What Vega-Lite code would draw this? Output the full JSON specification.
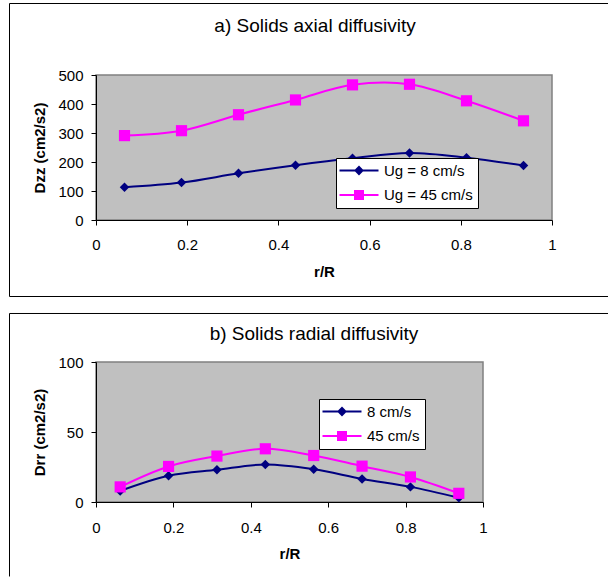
{
  "$schema": "https://vega.github.io/schema/vega-lite/v6.json",
  "padding": {"left": 8, "top": 2, "right": 0, "bottom": 0},
  "background": "white",
  "spacing": 14,
  "datasets": {
    "axial": [
      {"series": "Ug = 8 cm/s", "r": 0.0625, "D": 113},
      {"series": "Ug = 8 cm/s", "r": 0.1875, "D": 129},
      {"series": "Ug = 8 cm/s", "r": 0.3125, "D": 161},
      {"series": "Ug = 8 cm/s", "r": 0.4375, "D": 189},
      {"series": "Ug = 8 cm/s", "r": 0.5625, "D": 213},
      {"series": "Ug = 8 cm/s", "r": 0.6875, "D": 231},
      {"series": "Ug = 8 cm/s", "r": 0.8125, "D": 215},
      {"series": "Ug = 8 cm/s", "r": 0.9375, "D": 188},
      {"series": "Ug = 45 cm/s", "r": 0.0625, "D": 291},
      {"series": "Ug = 45 cm/s", "r": 0.1875, "D": 308},
      {"series": "Ug = 45 cm/s", "r": 0.3125, "D": 363},
      {"series": "Ug = 45 cm/s", "r": 0.4375, "D": 414},
      {"series": "Ug = 45 cm/s", "r": 0.5625, "D": 466},
      {"series": "Ug = 45 cm/s", "r": 0.6875, "D": 468},
      {"series": "Ug = 45 cm/s", "r": 0.8125, "D": 411},
      {"series": "Ug = 45 cm/s", "r": 0.9375, "D": 342}
    ],
    "radial": [
      {"series": "8 cm/s", "r": 0.0625, "D": 7.9},
      {"series": "8 cm/s", "r": 0.1875, "D": 18.7},
      {"series": "8 cm/s", "r": 0.3125, "D": 23},
      {"series": "8 cm/s", "r": 0.4375, "D": 26.8},
      {"series": "8 cm/s", "r": 0.5625, "D": 23.4},
      {"series": "8 cm/s", "r": 0.6875, "D": 16.5},
      {"series": "8 cm/s", "r": 0.8125, "D": 10.8},
      {"series": "8 cm/s", "r": 0.9375, "D": 3.1},
      {"series": "45 cm/s", "r": 0.0625, "D": 10.8},
      {"series": "45 cm/s", "r": 0.1875, "D": 25.4},
      {"series": "45 cm/s", "r": 0.3125, "D": 32.8},
      {"series": "45 cm/s", "r": 0.4375, "D": 38},
      {"series": "45 cm/s", "r": 0.5625, "D": 33.2},
      {"series": "45 cm/s", "r": 0.6875, "D": 25.6},
      {"series": "45 cm/s", "r": 0.8125, "D": 17.9},
      {"series": "45 cm/s", "r": 0.9375, "D": 6.2}
    ],
    "one": [{}]
  },
  "vconcat": [
    {
      "width": 456,
      "height": 145,
      "title": {"text": "a) Solids axial diffusivity", "fontSize": 19, "fontWeight": "normal", "baseline": "alphabetic", "offset": -47.8, "dx": -9, "anchor": "middle", "frame": "group"},
      "layer": [
        {
          "data": {"name": "axial"},
          "encoding": {
            "x": {"field": "r", "type": "quantitative", "scale": {"domain": [0, 1], "nice": false},
                  "axis": {"title": "r/R", "values": [0, 0.2, 0.4, 0.6, 0.8, 1], "format": "~g", "labelPadding": 12, "titlePadding": 12, "labelFlush": false, "labelOverlap": false}},
            "y": {"field": "D", "type": "quantitative", "scale": {"domain": [0, 500], "nice": false},
                  "axis": {"title": "Dzz (cm2/s2)", "values": [0, 100, 200, 300, 400, 500], "format": "d", "labelPadding": 8, "titlePadding": 10, "labelOverlap": false}}
          },
          "layer": [
            {"transform": [{"filter": "datum.series === 'Ug = 8 cm/s'"}],
             "mark": {"type": "line", "interpolate": "catmull-rom", "strokeWidth": 2, "color": "#000080"}},
            {"transform": [{"filter": "datum.series === 'Ug = 45 cm/s'"}],
             "mark": {"type": "line", "interpolate": "catmull-rom", "strokeWidth": 2, "color": "#FF00FF"}},
            {"transform": [{"filter": "datum.series === 'Ug = 8 cm/s'"}],
             "mark": {"type": "point", "shape": "diamond", "filled": true, "color": "#000080", "size": 90, "opacity": 1, "strokeWidth": 0}},
            {"transform": [{"filter": "datum.series === 'Ug = 45 cm/s'"}],
             "mark": {"type": "square", "color": "#FF00FF", "size": 125, "opacity": 1, "strokeWidth": 0}},
            {"transform": [{"filter": "false"}],
             "mark": {"type": "point", "filled": true, "opacity": 1},
             "encoding": {
               "fill": {"field": "series", "type": "nominal", "scale": {"domain": ["Ug = 8 cm/s", "Ug = 45 cm/s"], "range": ["#000080", "#FF00FF"]},
                        "legend": {"orient": "none", "legendX": 240, "legendY": 83, "title": null}},
               "stroke": {"field": "series", "type": "nominal", "scale": {"domain": ["Ug = 8 cm/s", "Ug = 45 cm/s"], "range": ["#000080", "#FF00FF"]},
                        "legend": {"orient": "none", "legendX": 240, "legendY": 83, "title": null}},
               "shape": {"field": "series", "type": "nominal", "scale": {"domain": ["Ug = 8 cm/s", "Ug = 45 cm/s"], "range": ["M-1.8,0H6M1.4,0L2.1,-0.7L2.8,0L2.1,0.7Z", "M-1.8,0H6M1.3,-0.8H2.9V0.8H1.3Z"]},
                        "legend": {"orient": "none", "legendX": 240, "legendY": 83, "title": null}}
             }}
          ]
        },
        {"data": {"name": "one"}, "mark": {"type": "rule", "color": "black", "strokeWidth": 1},
         "encoding": {
           "x": {"datum": -0.18969, "type": "quantitative", "axis": {"title": "r/R", "values": [0, 0.2, 0.4, 0.6, 0.8, 1], "format": "~g", "labelPadding": 12, "titlePadding": 12, "labelFlush": false, "labelOverlap": false}},
           "x2": {"datum": 1.1239},
           "y": {"datum": 746.55, "type": "quantitative", "axis": {"title": "Dzz (cm2/s2)", "values": [0, 100, 200, 300, 400, 500], "format": "d", "labelPadding": 8, "titlePadding": 10, "labelOverlap": false}}}},
        {"data": {"name": "one"}, "mark": {"type": "rule", "color": "black", "strokeWidth": 1},
         "encoding": {
           "x": {"datum": -0.18969, "type": "quantitative", "axis": {"title": "r/R", "values": [0, 0.2, 0.4, 0.6, 0.8, 1], "format": "~g", "labelPadding": 12, "titlePadding": 12, "labelFlush": false, "labelOverlap": false}},
           "x2": {"datum": 1.1239},
           "y": {"datum": -263.8, "type": "quantitative", "axis": {"title": "Dzz (cm2/s2)", "values": [0, 100, 200, 300, 400, 500], "format": "d", "labelPadding": 8, "titlePadding": 10, "labelOverlap": false}}}},
        {"data": {"name": "one"}, "mark": {"type": "rule", "color": "black", "strokeWidth": 1},
         "encoding": {
           "x": {"datum": -0.18969, "type": "quantitative", "axis": {"title": "r/R", "values": [0, 0.2, 0.4, 0.6, 0.8, 1], "format": "~g", "labelPadding": 12, "titlePadding": 12, "labelFlush": false, "labelOverlap": false}},
           "y": {"datum": -263.8, "type": "quantitative", "axis": {"title": "Dzz (cm2/s2)", "values": [0, 100, 200, 300, 400, 500], "format": "d", "labelPadding": 8, "titlePadding": 10, "labelOverlap": false}},
           "y2": {"datum": 746.55}}}
      ]
    },
    {
      "width": 387,
      "height": 140,
      "title": {"text": "b) Solids radial diffusivity", "fontSize": 19, "fontWeight": "normal", "baseline": "alphabetic", "offset": -46.5, "dx": 24.5, "anchor": "middle", "frame": "group"},
      "layer": [
        {
          "data": {"name": "radial"},
          "encoding": {
            "x": {"field": "r", "type": "quantitative", "scale": {"domain": [0, 1], "nice": false},
                  "axis": {"title": "r/R", "values": [0, 0.2, 0.4, 0.6, 0.8, 1], "format": "~g", "labelPadding": 13, "titlePadding": 11, "labelFlush": false, "labelOverlap": false}},
            "y": {"field": "D", "type": "quantitative", "scale": {"domain": [0, 100], "nice": false},
                  "axis": {"title": "Drr (cm2/s2)", "values": [0, 50, 100], "format": "d", "labelPadding": 8, "titlePadding": 10, "labelOverlap": false}}
          },
          "layer": [
            {"transform": [{"filter": "datum.series === '8 cm/s'"}],
             "mark": {"type": "line", "interpolate": "catmull-rom", "strokeWidth": 2, "color": "#000080"}},
            {"transform": [{"filter": "datum.series === '45 cm/s'"}],
             "mark": {"type": "line", "interpolate": "catmull-rom", "strokeWidth": 2, "color": "#FF00FF"}},
            {"transform": [{"filter": "datum.series === '8 cm/s'"}],
             "mark": {"type": "point", "shape": "diamond", "filled": true, "color": "#000080", "size": 90, "opacity": 1, "strokeWidth": 0}},
            {"transform": [{"filter": "datum.series === '45 cm/s'"}],
             "mark": {"type": "square", "color": "#FF00FF", "size": 125, "opacity": 1, "strokeWidth": 0}},
            {"transform": [{"filter": "false"}],
             "mark": {"type": "point", "filled": true, "opacity": 1},
             "encoding": {
               "fill": {"field": "series", "type": "nominal", "scale": {"domain": ["8 cm/s", "45 cm/s"], "range": ["#000080", "#FF00FF"]},
                        "legend": {"orient": "none", "legendX": 223, "legendY": 37, "title": null}},
               "stroke": {"field": "series", "type": "nominal", "scale": {"domain": ["8 cm/s", "45 cm/s"], "range": ["#000080", "#FF00FF"]},
                        "legend": {"orient": "none", "legendX": 223, "legendY": 37, "title": null}},
               "shape": {"field": "series", "type": "nominal", "scale": {"domain": ["8 cm/s", "45 cm/s"], "range": ["M-1.8,0H6M1.4,0L2.1,-0.7L2.8,0L2.1,0.7Z", "M-1.8,0H6M1.3,-0.8H2.9V0.8H1.3Z"]},
                        "legend": {"orient": "none", "legendX": 223, "legendY": 37, "title": null}}
             }}
          ]
        },
        {"data": {"name": "one"}, "mark": {"type": "rule", "color": "black", "strokeWidth": 1},
         "encoding": {
           "x": {"datum": -0.22351, "type": "quantitative", "axis": {"title": "r/R", "values": [0, 0.2, 0.4, 0.6, 0.8, 1], "format": "~g", "labelPadding": 13, "titlePadding": 11, "labelFlush": false, "labelOverlap": false}},
           "x2": {"datum": 1.32429},
           "y": {"datum": 134.643, "type": "quantitative", "axis": {"title": "Drr (cm2/s2)", "values": [0, 50, 100], "format": "d", "labelPadding": 8, "titlePadding": 10, "labelOverlap": false}}}},
        {"data": {"name": "one"}, "mark": {"type": "rule", "color": "black", "strokeWidth": 1},
         "encoding": {
           "x": {"datum": -0.22351, "type": "quantitative", "axis": {"title": "r/R", "values": [0, 0.2, 0.4, 0.6, 0.8, 1], "format": "~g", "labelPadding": 13, "titlePadding": 11, "labelFlush": false, "labelOverlap": false}},
           "y": {"datum": -53.2, "type": "quantitative", "axis": {"title": "Drr (cm2/s2)", "values": [0, 50, 100], "format": "d", "labelPadding": 8, "titlePadding": 10, "labelOverlap": false}},
           "y2": {"datum": 134.643}}}
      ]
    }
  ],
  "resolve": {
    "scale": {"x": "independent", "y": "independent", "fill": "independent", "stroke": "independent", "shape": "independent"},
    "legend": {"fill": "independent", "stroke": "independent", "shape": "independent"}
  },
  "config": {
    "font": "Liberation Sans",
    "view": {"fill": "#C0C0C0", "stroke": "#808080", "strokeWidth": 1.5},
    "axis": {"domainColor": "black", "tickColor": "black", "tickSize": 5, "labelColor": "black", "labelFontSize": 15,
             "titleColor": "black", "titleFontSize": 15, "titleFontWeight": "bold", "grid": false, "labelOverlap": false,
             "labelFont": "Liberation Sans", "titleFont": "Liberation Sans"},
    "legend": {"fillColor": "white", "strokeColor": "black", "padding": 5, "labelFontSize": 15, "labelColor": "black",
               "labelFont": "Liberation Sans", "rowPadding": 7.5, "symbolSize": 100, "symbolStrokeWidth": 2, "labelOffset": 28},
    "title": {"color": "black", "font": "Liberation Sans"}
  }
}
